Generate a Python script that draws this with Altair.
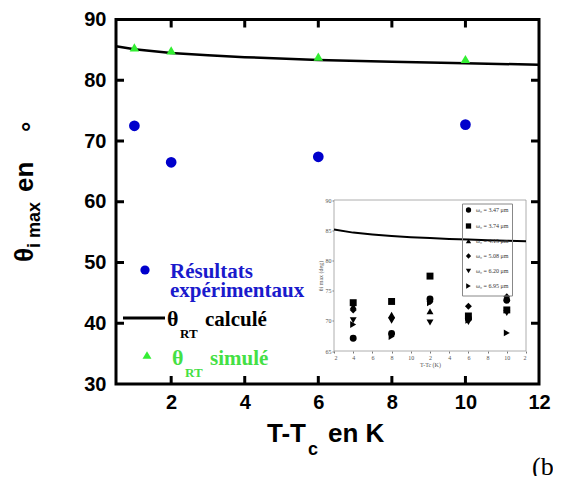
import json
import altair as alt
import pandas as pd

# ---------------- main chart data ----------------
exp_x = [1, 2, 6, 10]
exp_y = [72.5, 66.5, 67.4, 72.7]
sim_x = [1, 2, 6, 10]
sim_y = [85.4, 84.9, 83.9, 83.5]
calc_x = [0.5, 1, 2, 3, 4, 6, 8, 10, 12]
calc_y = [85.6, 85.1, 84.5, 84.1, 83.8, 83.35, 83.05, 82.8, 82.55]
x_ticks = [2, 4, 6, 8, 10, 12]
y_ticks = [30, 40, 50, 60, 70, 80, 90]

# ---------------- inset data ----------------
inset_x = [1, 3, 5, 7, 9]
inset_names = ["ω₀ = 3.47 μm", "ω₀ = 3.74 μm", "ω₀ = 4.15 μm",
               "ω₀ = 5.08 μm", "ω₀ = 6.20 μm", "ω₀ = 6.95 μm"]
inset_shapes = ["circle", "square", "triangle-up", "diamond", "triangle-down", "triangle-right"]
inset_values = [
    [67.1, 67.9, 73.6, 70.4, 73.4],
    [73.0, 73.2, 77.4, 70.8, 71.8],
    [72.4, 71.0, 71.6, 70.6, 73.8],
    [71.8, 70.5, 73.2, 72.4, 74.0],
    [70.1, 70.0, 69.7, 69.8, 71.3],
    [69.4, 67.4, 73.0, 70.1, 68.0],
]
inset_calc_x = [0, 1, 2, 3, 4, 5, 6, 7, 8, 9, 10]
inset_calc_y = [85.1, 84.6, 84.3, 84.05, 83.85, 83.7, 83.55, 83.45, 83.35, 83.25, 83.15]
inset_tick_labels = ["2", "4", "6", "8", "10", "2", "4", "6", "8", "10", "2"]
inset_y_ticks = [65, 70, 75, 80, 85, 90]

W, H = 423, 364.5
BLUE = "#0000cc"
GREEN = "#33ee33"

X = alt.Scale(domain=[0.5, 12], nice=False, zero=False)
Y = alt.Scale(domain=[30, 90], nice=False, zero=False)
IX = alt.Scale(domain=[0, 10], range=[218, 410], nice=False, zero=False)
IY = alt.Scale(domain=[65, 90], range=[331.5, 180.5], nice=False, zero=False)

exp_df = pd.DataFrame({"x": exp_x, "y": exp_y})
sim_df = pd.DataFrame({"x": sim_x, "y": sim_y})
calc_df = pd.DataFrame({"x": calc_x, "y": calc_y})


def label(txt, x, y, size, color="black", font="Liberation Serif", weight="bold",
          angle=0, align="left"):
    return alt.Chart(pd.DataFrame({"t": [txt]})).mark_text(
        font=font, fontSize=size, fontWeight=weight, color=color, align=align,
        baseline="alphabetic", angle=angle
    ).encode(x=alt.value(x), y=alt.value(y), text="t:N")


main_x_axis = alt.Axis(orient="bottom", values=x_ticks, ticks=False, domain=False, grid=False,
                       title=None, labelFont="Liberation Sans", labelFontWeight="bold",
                       labelFontSize=20, labelColor="black", labelPadding=8, labelFlush=False)
main_y_axis = alt.Axis(orient="left", values=y_ticks, ticks=False, domain=False, grid=False,
                       title=None, labelFont="Liberation Sans", labelFontWeight="bold",
                       labelFontSize=20, labelColor="black", labelPadding=10, labelFlush=False)

ticks_bottom = alt.Chart(pd.DataFrame({"v": x_ticks[:-1]})).mark_rule(
    color="black", strokeWidth=3).encode(
    x=alt.X("v:Q", scale=X, axis=None), y=alt.value(H), y2=alt.value(H - 8))
ticks_top = alt.Chart(pd.DataFrame({"v": x_ticks[:-1]})).mark_rule(
    color="black", strokeWidth=3).encode(
    x=alt.X("v:Q", scale=X, axis=None), y=alt.value(0), y2=alt.value(8))
ticks_left = alt.Chart(pd.DataFrame({"v": y_ticks[1:-1]})).mark_rule(
    color="black", strokeWidth=3).encode(
    y=alt.Y("v:Q", scale=Y, axis=None), x=alt.value(0), x2=alt.value(8))
ticks_right = alt.Chart(pd.DataFrame({"v": y_ticks[1:-1]})).mark_rule(
    color="black", strokeWidth=3).encode(
    y=alt.Y("v:Q", scale=Y, axis=None), x=alt.value(W), x2=alt.value(W - 8))

calc_line = alt.Chart(calc_df).mark_line(color="black", strokeWidth=2.5).encode(
    x=alt.X("x:Q", scale=X, axis=None), y=alt.Y("y:Q", scale=Y, axis=None))
sim_pts = alt.Chart(sim_df).mark_point(shape="triangle-up", filled=True, color=GREEN,
                                       size=90, opacity=1).encode(
    x=alt.X("x:Q", scale=X, axis=None), y=alt.Y("y:Q", scale=Y, axis=None))
exp_pts = alt.Chart(exp_df).mark_circle(color=BLUE, size=115, opacity=1).encode(
    x=alt.X("x:Q", scale=X, axis=main_x_axis), y=alt.Y("y:Q", scale=Y, axis=main_y_axis))

# legend of the main chart
leg_circle = alt.Chart(pd.DataFrame({"k": [0]})).mark_circle(color=BLUE, size=85, opacity=1).encode(
    x=alt.value(29), y=alt.value(250.5))
leg_line = alt.Chart(pd.DataFrame({"k": [0]})).mark_rule(color="black", strokeWidth=3).encode(
    x=alt.value(7), x2=alt.value(49), y=alt.value(298.5))
leg_tri = alt.Chart(pd.DataFrame({"k": [0]})).mark_point(shape="triangle-up", filled=True,
                                                         color=GREEN, size=80, opacity=1).encode(
    x=alt.value(31), y=alt.value(335.5))

texts = [
    label("Résultats", 54, 258, 21, color="#1a1acc"),
    label("expérimentaux", 54, 277.5, 21, color="#1a1acc"),
    label("θ", 51, 306.5, 22),
    label("RT", 64, 318.8, 13),
    label("calculé", 89, 306.5, 21),
    label("θ", 56, 345, 22, color="#44e044"),
    label("RT", 69, 357, 13, color="#44e044"),
    label("simulé", 94, 345, 21, color="#44e044"),
    # axis titles
    label("T-T", 151, 422.5, 26, font="Liberation Sans"),
    label("c", 192, 435.5, 18, font="Liberation Sans"),
    label("en K", 212, 422.5, 26, font="Liberation Sans"),
    label("θ", -83, 242.5, 26, font="Liberation Sans", angle=270),
    label("i max", -76, 228.5, 18, font="Liberation Sans", angle=270),
    label("en", -83, 172.5, 26, font="Liberation Sans", angle=270),
    label("°", -76, 112.5, 26, font="Liberation Sans", angle=270),
    label("(b)", 416, 455, 26, font="Liberation Serif", weight="normal"),
]

# ---------------- inset ----------------
inset_rows = []
for name, vals in zip(inset_names, inset_values):
    for xv, yv in zip(inset_x, vals):
        inset_rows.append({"x": xv, "y": yv, "w0": name})
inset_df = pd.DataFrame(inset_rows)
inset_calc_df = pd.DataFrame({"x": inset_calc_x, "y": inset_calc_y})
frame_df = pd.DataFrame({"x0": [IX.domain[0]], "x1": [IX.domain[1]],
                         "y0": [IY.domain[0]], "y1": [IY.domain[1]]})

inset_x_axis = alt.Axis(orient="bottom", offset=-33, values=list(range(len(inset_tick_labels))),
                        labelExpr=json.dumps(inset_tick_labels) + "[datum.value]",
                        labelFont="Liberation Serif", labelFontSize=6, labelColor="#555",
                        tickSize=2, tickColor="#777", domain=False, grid=False,
                        title="T-Tc (K)", titleFont="Liberation Serif", titleFontSize=6,
                        titleFontWeight="normal", titleColor="#555", titlePadding=1,
                        labelPadding=1)
inset_y_axis = alt.Axis(orient="left", offset=-218, values=inset_y_ticks,
                        labelFont="Liberation Serif", labelFontSize=6, labelColor="#555",
                        tickSize=2, tickColor="#777", domain=False, grid=False,
                        title="θi max (deg)", titleFont="Liberation Serif", titleFontSize=6,
                        titleFontWeight="normal", titleColor="#555", titlePadding=2,
                        labelPadding=1)

inset_frame = alt.Chart(frame_df).mark_rect(fill="white", stroke="#9a9a9a", strokeWidth=0.8).encode(
    x=alt.X("x0:Q", scale=IX, axis=inset_x_axis), x2="x1:Q",
    y=alt.Y("y0:Q", scale=IY, axis=inset_y_axis), y2="y1:Q")
inset_line = alt.Chart(inset_calc_df).mark_line(color="black", strokeWidth=2).encode(
    x=alt.X("x:Q", scale=IX, axis=None), y=alt.Y("y:Q", scale=IY, axis=None))
inset_pts = alt.Chart(inset_df).mark_point(filled=True, color="black", size=48, opacity=1).encode(
    x=alt.X("x:Q", scale=IX, axis=None), y=alt.Y("y:Q", scale=IY, axis=None),
    shape=alt.Shape("w0:N", scale=alt.Scale(domain=inset_names, range=inset_shapes),
                    legend=alt.Legend(orient="none", legendX=346, legendY=184, title=None,
                                      labelFont="Liberation Serif", labelFontSize=6,
                                      labelColor="#333", symbolSize=28, symbolFillColor="black",
                                      symbolStrokeColor="black", strokeColor="#888",
                                      padding=3, rowPadding=3, labelOffset=4)))

layers = [ticks_bottom, ticks_top, ticks_left, ticks_right, calc_line, sim_pts, exp_pts,
          inset_frame, inset_line, inset_pts, leg_circle, leg_line, leg_tri, *texts]

chart = alt.layer(*layers).resolve_scale(x="independent", y="independent").properties(
    width=W, height=H,
    autosize=alt.AutoSizeParams(type="none"),
    padding={"left": 108, "top": 11.5, "right": 14, "bottom": 92},
).configure_view(stroke="black", strokeWidth=3)

chart.save("out.html", embed_options={"renderer": "svg", "actions": False})
